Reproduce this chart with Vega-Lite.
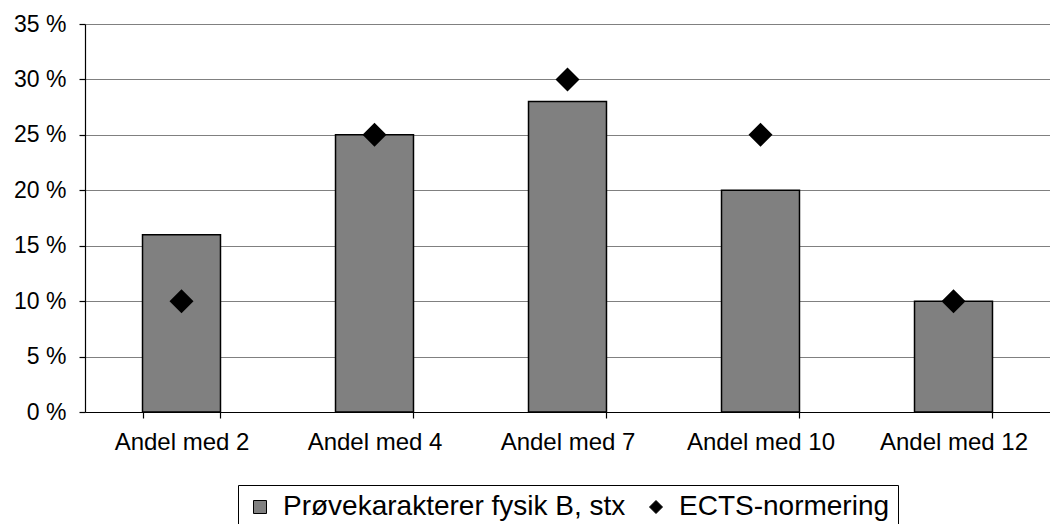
{
  "$schema": "https://vega.github.io/schema/vega-lite/v6.json",
  "width": 965,
  "height": 388,
  "autosize": {"type": "none"},
  "padding": {"left": 85, "top": 24, "right": 0, "bottom": 112},
  "background": "white",
  "config": {
    "view": {"stroke": null},
    "font": "Liberation Sans",
    "axis": {"labelFont": "Liberation Sans", "labelColor": "black", "domainColor": "black", "tickColor": "black", "tickSize": 6, "domainWidth": 1.2, "tickWidth": 1.2}
  },
  "data": {
    "values": [
      {"kategori": "Andel med 2", "serie": "Prøvekarakterer fysik B, stx", "andel": 16},
      {"kategori": "Andel med 4", "serie": "Prøvekarakterer fysik B, stx", "andel": 25},
      {"kategori": "Andel med 7", "serie": "Prøvekarakterer fysik B, stx", "andel": 28},
      {"kategori": "Andel med 10", "serie": "Prøvekarakterer fysik B, stx", "andel": 20},
      {"kategori": "Andel med 12", "serie": "Prøvekarakterer fysik B, stx", "andel": 10},
      {"kategori": "Andel med 2", "serie": "ECTS-normering", "andel": 10},
      {"kategori": "Andel med 4", "serie": "ECTS-normering", "andel": 25},
      {"kategori": "Andel med 7", "serie": "ECTS-normering", "andel": 30},
      {"kategori": "Andel med 10", "serie": "ECTS-normering", "andel": 25},
      {"kategori": "Andel med 12", "serie": "ECTS-normering", "andel": 10}
    ]
  },
  "encoding": {
    "x": {
      "field": "kategori",
      "type": "nominal",
      "sort": null,
      "title": null,
      "scale": {"paddingInner": 0.596, "paddingOuter": 0.298},
      "axis": {"labelAngle": 0, "labelFontSize": 24, "labelPadding": 12, "labelLimit": 0, "tickBand": "extent", "grid": false}
    },
    "y": {
      "field": "andel",
      "type": "quantitative",
      "title": null,
      "scale": {"domain": [0, 35], "nice": false},
      "axis": {"values": [0, 5, 10, 15, 20, 25, 30, 35], "labelExpr": "datum.value + ' %'", "labelFontSize": 23, "labelPadding": 13, "grid": true, "gridColor": "#808080", "gridWidth": 1.2}
    },
    "color": {
      "field": "serie",
      "type": "nominal",
      "title": null,
      "scale": {"domain": ["Prøvekarakterer fysik B, stx", "ECTS-normering"], "range": ["#808080", "#000000"]},
      "legend": {
        "orient": "none",
        "legendX": 153,
        "legendY": 461,
        "direction": "horizontal",
        "strokeColor": "black",
        "padding": 8,
        "labelFontSize": 28,
        "labelLimit": 0,
        "labelColor": "black",
        "symbolSize": 169,
        "symbolStrokeColor": "black",
        "symbolStrokeWidth": 1,
        "columnPadding": 16,
        "labelOffset": 9
      }
    }
  },
  "layer": [
    {
      "transform": [{"filter": "datum.serie === 'Prøvekarakterer fysik B, stx'"}],
      "mark": {"type": "bar", "stroke": "black", "strokeWidth": 1.5}
    },
    {
      "transform": [{"filter": "datum.serie === 'ECTS-normering'"}],
      "mark": {"type": "point", "filled": true, "size": 576, "opacity": 1},
      "encoding": {
        "shape": {
          "field": "serie",
          "type": "nominal",
          "title": null,
          "scale": {"domain": ["Prøvekarakterer fysik B, stx", "ECTS-normering"], "range": ["square", "diamond"]},
          "legend": {
            "orient": "none",
            "legendX": 153,
            "legendY": 461,
            "direction": "horizontal",
            "strokeColor": "black",
            "padding": 8,
            "labelFontSize": 28,
            "labelLimit": 0,
            "labelColor": "black",
            "symbolSize": 169,
            "symbolStrokeColor": "black",
            "symbolStrokeWidth": 1,
            "columnPadding": 16,
            "labelOffset": 9
          }
        }
      }
    }
  ]
}
